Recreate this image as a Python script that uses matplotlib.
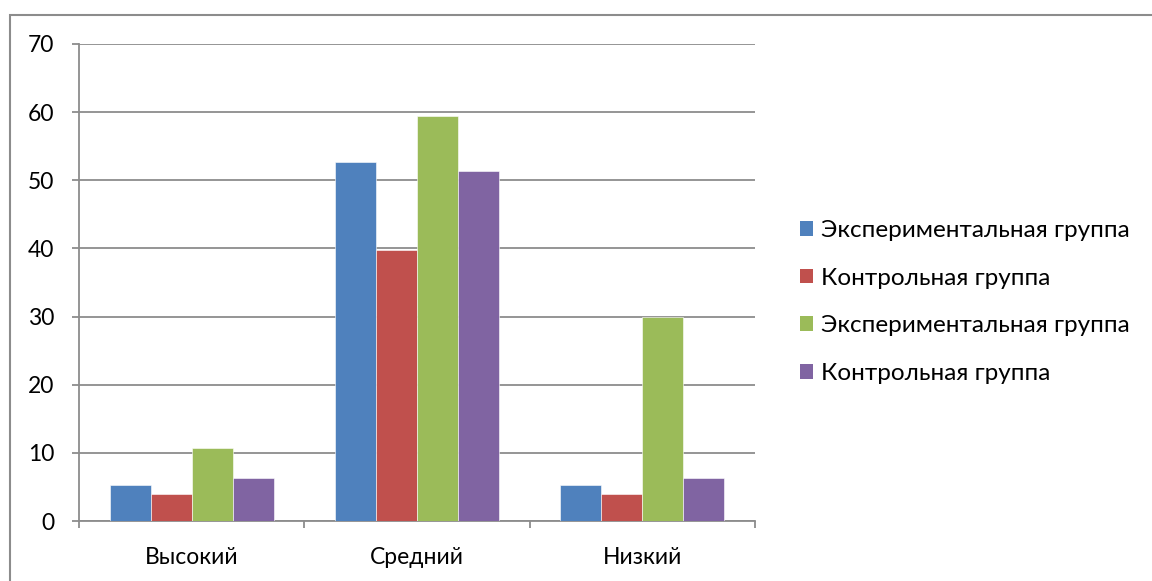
import numpy as np
import matplotlib.pyplot as plt
from matplotlib.patches import Rectangle, Patch

categories = ['Высокий', 'Средний', 'Низкий']
series_names = ['Экспериментальная группа', 'Контрольная группа',
                'Экспериментальная группа', 'Контрольная группа']
exp1 = [5.3, 52.7, 5.3]
ctrl1 = [3.9, 39.7, 3.9]
exp2 = [10.7, 59.4, 30.0]
ctrl2 = [6.3, 51.3, 6.3]
colors = ['#4F81BD', '#C0504D', '#9BBB59', '#8064A2']
yticks = [0, 10, 20, 30, 40, 50, 60, 70]

plt.rcParams['font.family'] = ['Lato', 'DejaVu Sans']

fig = plt.figure(figsize=(11.52, 5.81), dpi=100)
# outer chart border
fig.patches.append(Rectangle((10 / 1152, -0.05), 1.1, 1 - 15 / 581 + 0.05,
                             transform=fig.transFigure, fill=False,
                             edgecolor='#8c8c8c', linewidth=1.5))

ax = fig.add_axes([79 / 1152, 1 - 521 / 581, (755 - 79) / 1152, (521 - 44) / 581])

x = np.arange(len(categories))
w = 1 / 5.5
data = [exp1, ctrl1, exp2, ctrl2]
for i, vals in enumerate(data):
    ax.bar(x + (i - 1.5) * w, vals, w, color=colors[i], edgecolor='white',
           linewidth=0.4, zorder=3)

ax.set_xlim(-0.5, 2.5)
ax.set_ylim(0, 70)
ax.set_yticks(yticks)
ax.yaxis.grid(True, color='#8c8c8c', linewidth=1.3, zorder=0)
ax.set_axisbelow(True)

ax.set_xticks(x)
ax.set_xticklabels(categories)
ax.set_xticks([-0.5, 0.5, 1.5, 2.5], minor=True)
ax.tick_params(axis='x', which='major', length=0, pad=19, labelsize=16.5)
ax.tick_params(axis='x', which='minor', length=5, width=1.3, color='#8c8c8c')
ax.tick_params(axis='y', length=5, width=1.3, color='#8c8c8c', pad=13, labelsize=16.5)

for s in ['top', 'right']:
    ax.spines[s].set_visible(False)
for s in ['left', 'bottom']:
    ax.spines[s].set_color('#8c8c8c')
    ax.spines[s].set_linewidth(1.3)

handles = [Patch(facecolor=c, edgecolor='none') for c in colors]
fig.legend(handles, series_names, loc='center left',
           bbox_to_anchor=(778 / 1152, 1 - 302 / 581), frameon=False,
           fontsize=17.5, handlelength=0.55, handleheight=0.55,
           handletextpad=0.3, labelspacing=1.1)

plt.savefig('out.png')
